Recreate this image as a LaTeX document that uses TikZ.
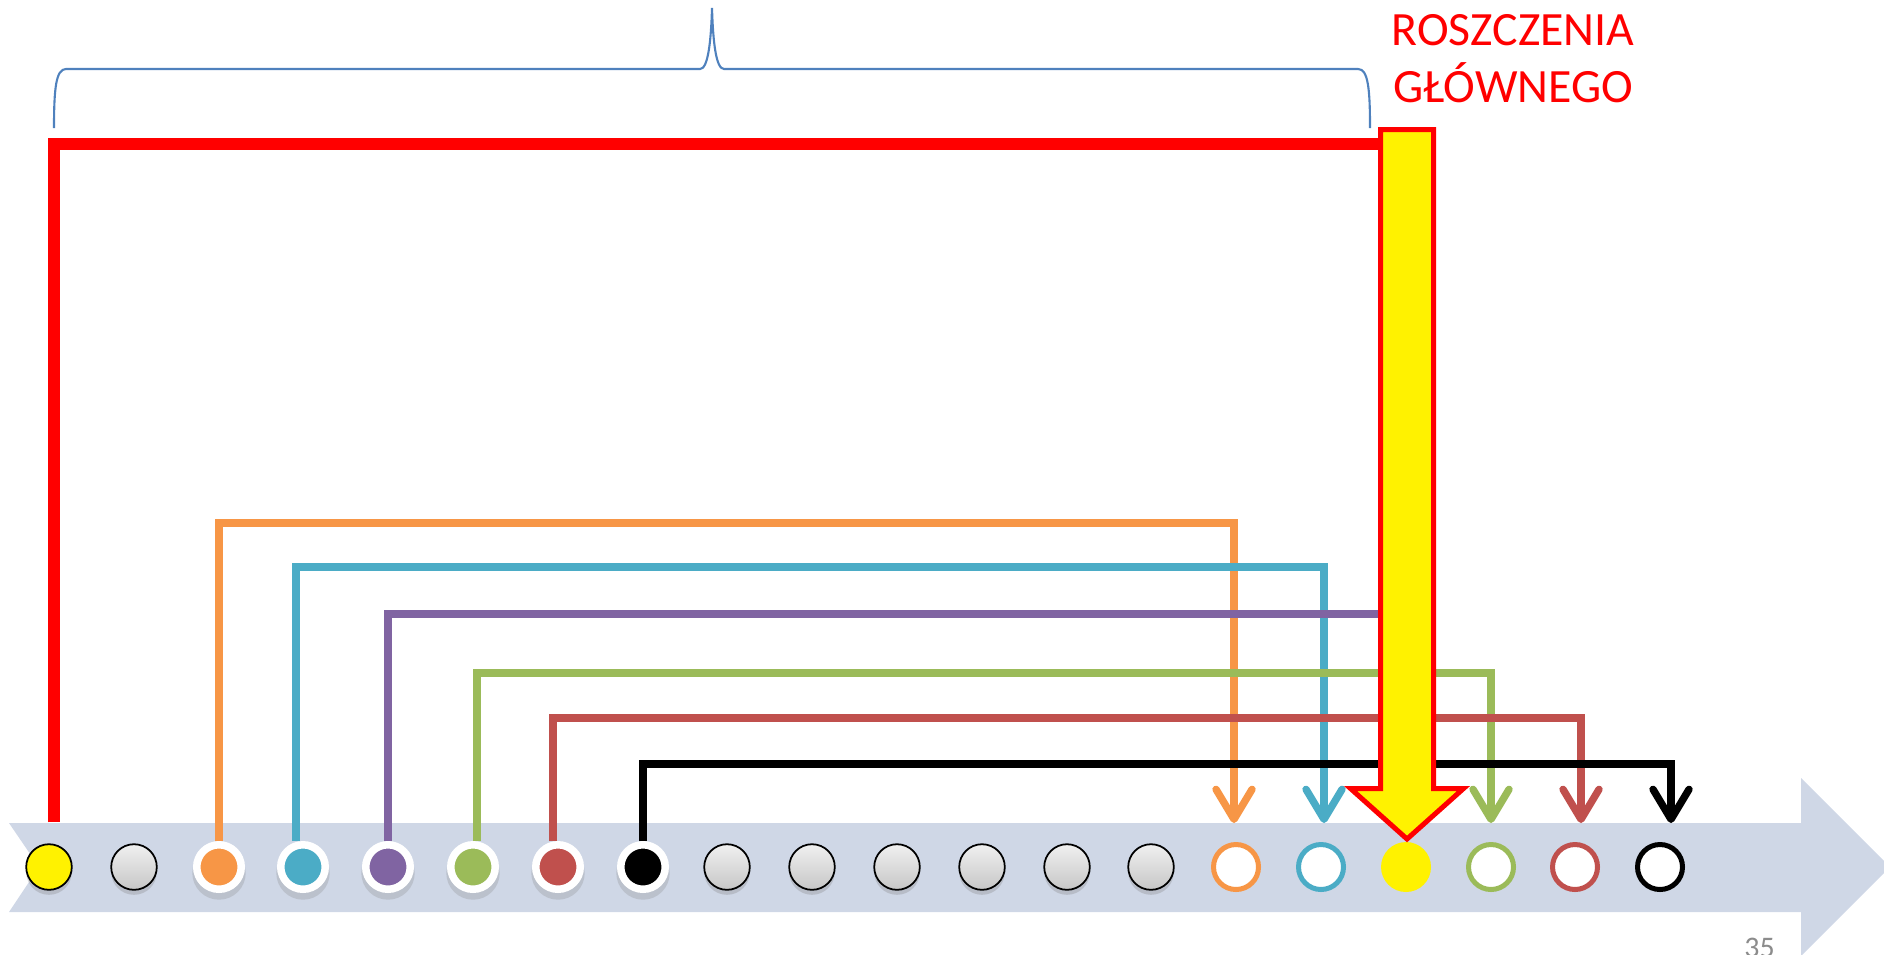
\documentclass[tikz,border=0pt]{standalone}
\usepackage{fontspec}
\setmainfont{Carlito}
\usetikzlibrary{arrows.meta,shadows}

\definecolor{bandC}{RGB}{207,215,230}
\definecolor{orangeC}{RGB}{247,150,70}
\definecolor{blueC}{RGB}{75,172,198}
\definecolor{purpleC}{RGB}{128,100,162}
\definecolor{greenC}{RGB}{155,187,89}
\definecolor{redC}{RGB}{192,80,77}
\definecolor{braceC}{RGB}{79,129,189}

\tikzset{
  dot/.style={circle, inner sep=0pt, minimum size=4.56mm},
  graydot/.style={dot, draw=black, line width=0.5pt, top color=black!6, bottom color=black!22,
    drop shadow={shadow xshift=0pt, shadow yshift=-0.5mm, opacity=0.3}},
  sundot/.style={dot, draw=black, line width=0.5pt, fill=yellow,
    drop shadow={shadow xshift=0pt, shadow yshift=-0.5mm, opacity=0.3}},
  ringdot/.style={dot, minimum size=4.45mm, draw=white, line width=2.13pt,
    drop shadow={shadow xshift=0pt, shadow yshift=-0.5mm, shadow scale=1.2, opacity=0.25}},
  opendot/.style={dot, minimum size=4.5mm, fill=white, line width=1.42pt},
  link/.style={line width=2.1pt, line join=miter},
  linkto/.style={link, -{Straight Barb[length=3mm,width=3.6mm,round]}, shorten >=1.9mm},
  mainline/.style={red, line width=3.27pt, line join=miter},
  bigarrow/.style={fill=yellow, draw=red, line width=1.42pt, line join=miter},
  bracket/.style={braceC, line width=0.6pt}
}

\begin{document}
\begin{tikzpicture}[x=0.1mm, y=-0.1mm]
\useasboundingbox (0,0) rectangle (1884,954);
\clip (0,0) rectangle (1884,954);

% os czasu
\fill[bandC] (9,823) -- (1801,823) -- (1801,778) -- (1890,867) -- (1801,956) -- (1801,912)
  -- (9,912) -- (39,867) -- cycle;
\node[black!45, anchor=base west, font=\fontsize{8.5}{10}\selectfont] (page) at (1732,957) {35};

% punkty
\node[sundot] (c0) at (49,867) {};
\node[graydot] (c1) at (134,867) {};
\node[ringdot, fill=orangeC] (c2) at (219,867) {};
\node[ringdot, fill=blueC] (c3) at (303,867) {};
\node[ringdot, fill=purpleC] (c4) at (388,867) {};
\node[ringdot, fill=greenC] (c5) at (473,867) {};
\node[ringdot, fill=redC] (c6) at (558,867) {};
\node[ringdot, fill=black] (c7) at (643,867) {};
\node[graydot] (c8) at (727,867) {};
\node[graydot] (c9) at (812,867) {};
\node[graydot] (c10) at (897,867) {};
\node[graydot] (c11) at (982,867) {};
\node[graydot] (c12) at (1067,867) {};
\node[graydot] (c13) at (1151,867) {};
\node[opendot, draw=orangeC] (c14) at (1236,867) {};
\node[opendot, draw=blueC] (c15) at (1321,867) {};
\node[dot, minimum size=5mm, fill=yellow] (c16) at (1406,867) {};
\node[opendot, draw=greenC] (c17) at (1491,867) {};
\node[opendot, draw=redC] (c18) at (1575,867) {};
\node[opendot, draw=black] (c19) at (1660,867) {};

% powiazania
\draw[linkto, orangeC] (c2.north) -- ++(0,-318) -| ([xshift=-0.2mm]c14.north);
\draw[linkto, blueC] ([xshift=-0.7mm]c3.north) -- ++(0,-274) -| ([xshift=0.3mm]c15.north);
\draw[link, purpleC, shorten >=3mm] (c4.north) -- ++(0,-227) -| (c16.north);
\draw[linkto, greenC] ([xshift=0.4mm]c5.north) -- ++(0,-168) -| (c17.north);
\draw[linkto, redC] ([xshift=-0.5mm]c6.north) -- ++(0,-123) -| ([xshift=0.6mm]c18.north);
\draw[linkto, black] (c7.north) -- ++(0,-77) -| ([xshift=1.1mm]c19.north);

% roszczenie glowne
\coordinate (arrowL) at (1380,144);
\draw[mainline, shorten <=2.1mm] ([xshift=0.5mm]c0.north) |- (arrowL);
\draw[bigarrow] (1380.5,129.5) -- (1433.5,129.5) -- (1433.5,788.5) -- (1463.5,788.5)
  -- (1407,839) -- (1350.5,788.5) -- (1380.5,788.5) -- cycle;

\node[red, anchor=north, align=center, inner sep=0pt,
  font=\fontsize{13.6}{16.2}\selectfont] (title) at (1513,14) {ROSZCZENIA\\GŁÓWNEGO};

% klamra
\draw[bracket] (54,128) .. controls (54,88) and (56,69) .. (66,69) -- (700,69)
  .. controls (708,69) and (711,42) .. (712,8) .. controls (713,42) and (716,69) .. (724,69)
  -- (1358,69) .. controls (1368,69) and (1370,88) .. (1370,128);
\end{tikzpicture}
\end{document}
